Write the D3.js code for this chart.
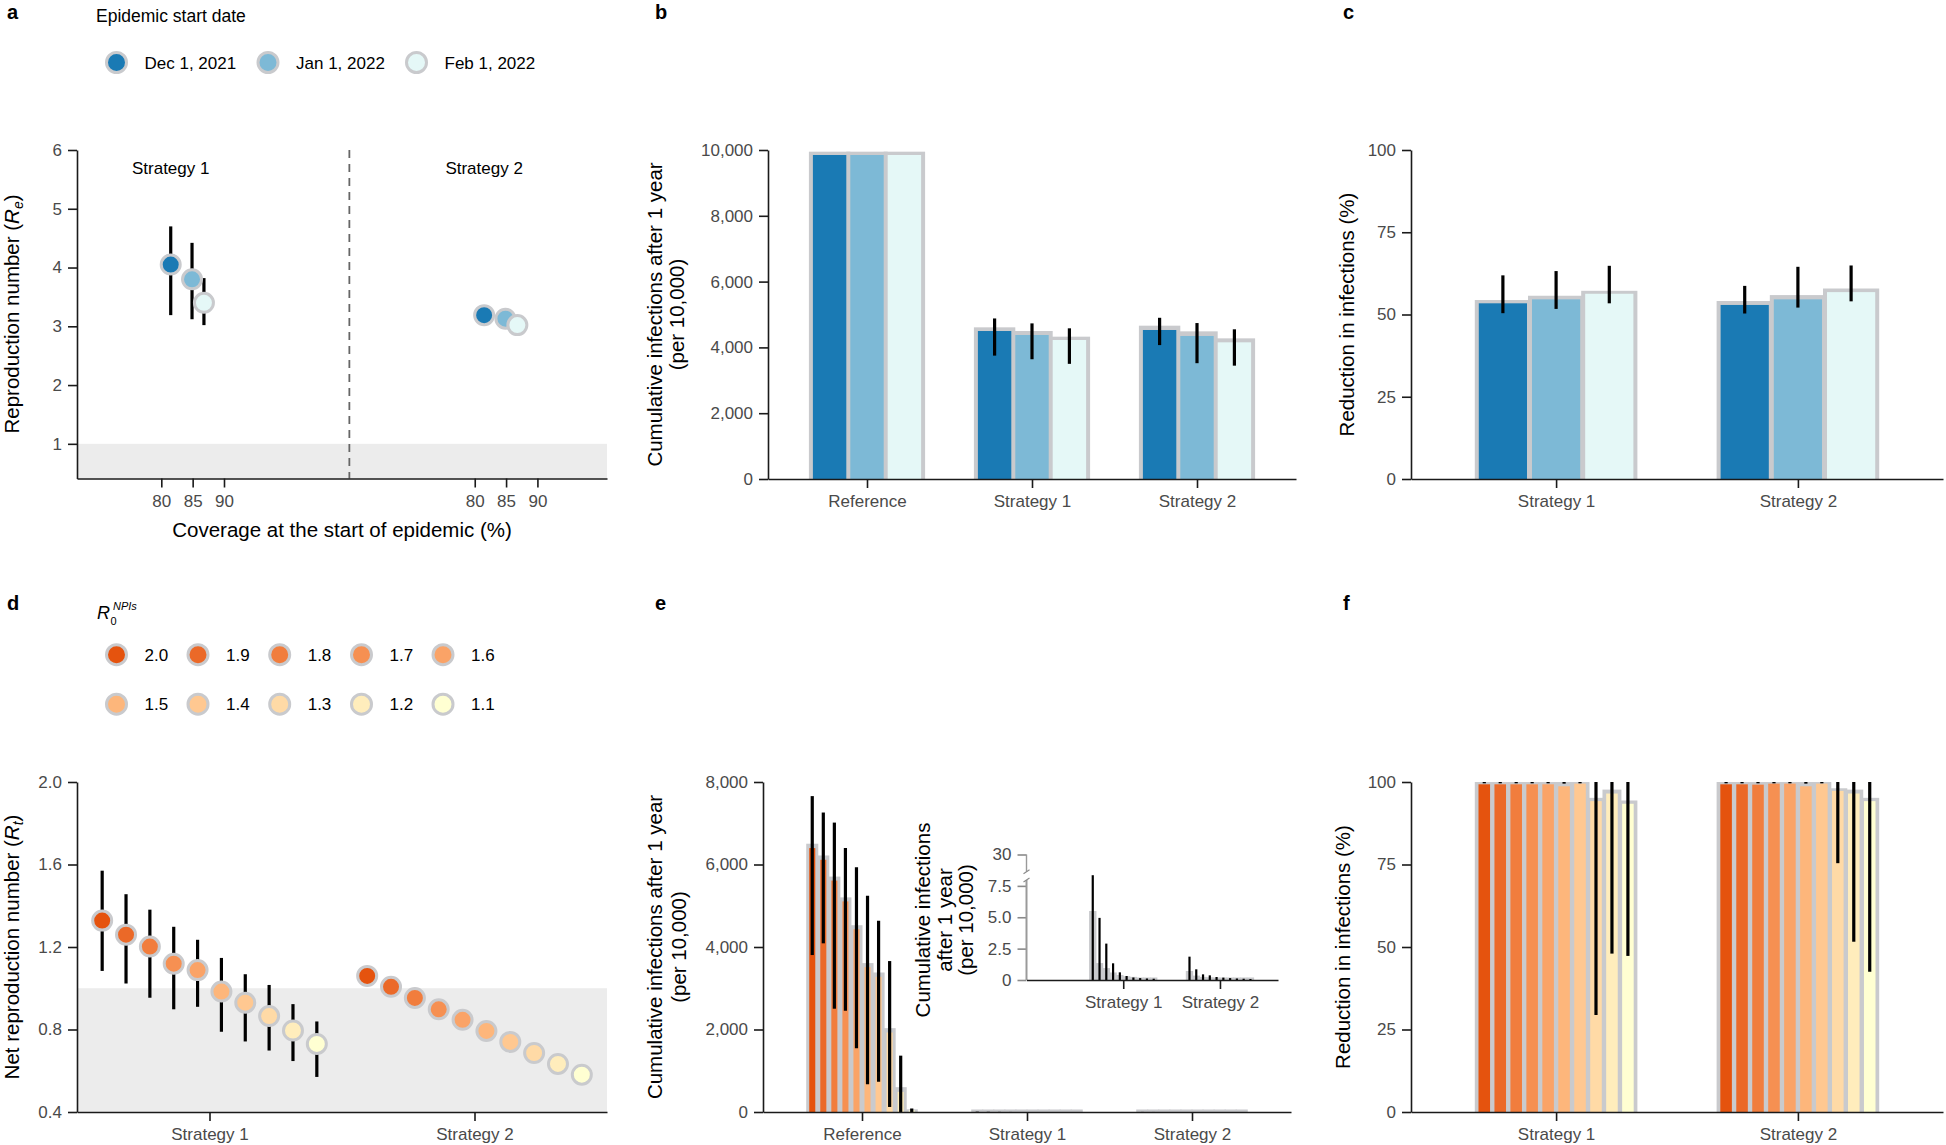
<!DOCTYPE html>
<html>
<head>
<meta charset="utf-8">
<script src="https://cdn.jsdelivr.net/npm/d3@7"></script>
<style>
  body { margin: 0; background: #fff; }
  svg text { font-family: "Liberation Sans", Arial, Helvetica, sans-serif; }
</style>
</head>
<body>
<svg id="chart" width="1946" height="1145"></svg>
<script>
// ---------- data ----------
var startDates = ["Dec 1, 2021", "Jan 1, 2022", "Feb 1, 2022"];
var scenarios = ["Reference", "Strategy 1", "Strategy 2"];
var strategies = ["Strategy 1", "Strategy 2"];
var r0Labels = ["2.0", "1.9", "1.8", "1.7", "1.6", "1.5", "1.4", "1.3", "1.2", "1.1"];

// a: effective reproduction number vs coverage
var coverage = [81.5, 84.9, 86.8];
var coverageTicks = [80, 85, 90];
var reS1 = [4.05, 3.80, 3.40];
var reS1Low = [3.19, 3.12, 3.02];
var reS1High = [4.70, 4.42, 3.82];
var reS2 = [3.19, 3.13, 3.02];
var reS2Low = [3.17, 3.11, 3.00];
var reS2High = [3.21, 3.15, 3.04];
var reTicks = [1, 2, 3, 4, 5, 6];

// b: cumulative infections (per 10,000), [Reference, Strategy 1, Strategy 2] x start date
var bMedian = [[9848, 9848, 9848], [4498, 4377, 4225], [4529, 4347, 4154]];
var bMean = [[9949, 9949, 9949], [4610, 4498, 4326], [4660, 4488, 4275]];
var bLow = [[9848, 9848, 9848], [3750, 3640, 3500], [4070, 3520, 3445]];
var bHigh = [[9848, 9848, 9848], [4880, 4730, 4580], [4900, 4740, 4550]];
var bTicks = [0, 2000, 4000, 6000, 8000, 10000];

// c: reduction in infections (%)
var cMedian = [[53.4, 54.6, 56.3], [52.9, 54.6, 56.8]];
var cMean = [[54.4, 55.7, 57.2], [54.1, 55.9, 57.9]];
var cLow = [[50.4, 51.7, 53.4], [50.3, 52.1, 54.0]];
var cHigh = [[61.9, 63.2, 64.8], [58.7, 64.5, 64.9]];
var pctTicks = [0, 25, 50, 75, 100];

// d: net reproduction number by R0 with NPIs
var rtS1 = [1.328, 1.260, 1.202, 1.119, 1.088, 0.984, 0.930, 0.865, 0.795, 0.730];
var rtS1Low = [1.084, 1.023, 0.954, 0.898, 0.910, 0.789, 0.742, 0.698, 0.647, 0.570];
var rtS1High = [1.570, 1.456, 1.381, 1.298, 1.235, 1.147, 1.068, 1.016, 0.923, 0.839];
var rtS2 = [1.060, 1.007, 0.953, 0.898, 0.847, 0.793, 0.740, 0.686, 0.633, 0.581];
var rtS2Low = [1.055, 1.002, 0.948, 0.893, 0.842, 0.788, 0.735, 0.681, 0.628, 0.576];
var rtS2High = [1.065, 1.012, 0.958, 0.903, 0.852, 0.798, 0.745, 0.691, 0.638, 0.586];
var rtTicks = [0.4, 0.8, 1.2, 1.6, 2.0];

// e: cumulative infections (per 10,000) by R0 with NPIs
var eMedian = [
  [6398, 6114, 5610, 5106, 4431, 3512, 3276, 1927, 488, 41],
  [0, 0, 0, 0, 0, 0, 0, 0, 0, 0],
  [0, 0, 0, 0, 0, 0, 0, 0, 0, 0]];
var eMean = [
  [6504, 6219, 5707, 5203, 4528, 3610, 3382, 2033, 602, 65],
  [5.5, 1.35, 0.95, 0.6, 0.4, 0.3, 0.25, 0.2, 0.2, 0.2],
  [0.72, 0.35, 0.25, 0.22, 0.2, 0.2, 0.2, 0.2, 0.2, 0.2]];
var eLow = [
  [3805, 4089, 2504, 2455, 1545, 675, 732, 122, 0, 0],
  [0, 0, 0, 0, 0, 0, 0, 0, 0, 0],
  [0, 0, 0, 0, 0, 0, 0, 0, 0, 0]];
var eHigh = [
  [7658, 7260, 7016, 6398, 5935, 5244, 4634, 3659, 1366, 85],
  [8.35, 4.95, 2.9, 1.33, 0.61, 0.32, 0.2, 0.15, 0.12, 0.1],
  [1.86, 0.85, 0.45, 0.37, 0.24, 0.19, 0.15, 0.12, 0.1, 0.08]];
var eTicks = [0, 2000, 4000, 6000, 8000];
var insetTicks = [0, 2.5, 5, 7.5, 30];
var insetTickLabels = ["0", "2.5", "5.0", "7.5", "30"];

// f: reduction in infections (%) by R0 with NPIs
var fMedian = [
  [99.3, 99.3, 99.3, 99.3, 99.3, 98.7, 99.5, 94.2, 96.5, 93.4],
  [99.3, 99.3, 99.2, 99.5, 99.5, 98.7, 99.5, 97.3, 96.5, 94.2]];
var fMean = [
  [100, 100, 100, 100, 100, 100, 100, 95.2, 97.7, 94.4],
  [100, 100, 100, 100, 100, 100, 100, 98.1, 97.7, 95.2]];
var fLow = [
  [99.6, 99.6, 99.6, 99.6, 99.6, 99.5, 99.6, 29.4, 48.0, 47.3],
  [99.6, 99.6, 99.6, 99.6, 99.6, 99.5, 99.6, 75.4, 51.6, 42.5]];
var fHigh = [
  [100, 100, 100, 100, 100, 100, 100, 100, 100, 100],
  [100, 100, 100, 100, 100, 100, 100, 100, 100, 100]];

// ---------- styling ----------
var FONT = "'Liberation Sans', Arial, Helvetica, sans-serif";
var outline = "#c9cacd";
var shade = "#ececec";
var blues = ["#1a7ab4", "#7db9d6", "#e5f8f7"];
var orangeRamp = d3.interpolateLab("#e5530e", "#ffffd2");
var oranges = r0Labels.map(function(d, i) { return orangeRamp(i / (r0Labels.length - 1)); });
var tickSize = 9;

var svg = d3.select("#chart");

function styleAxis(g, size) {
  g.attr("font-family", FONT).attr("font-size", size || 17);
  g.select(".domain").attr("stroke", "#1a1a1a").attr("stroke-width", 1.6);
  g.selectAll(".tick line").attr("stroke", "#1a1a1a").attr("stroke-width", 1.6);
  g.selectAll(".tick text").attr("fill", "#4a4a4a");
  return g;
}

function leftAxis(scale, x, ticks, fmt) {
  var ax = d3.axisLeft(scale).tickValues(ticks).tickSize(tickSize).tickSizeOuter(0).tickPadding(6);
  if (fmt) ax.tickFormat(fmt);
  return styleAxis(svg.append("g").attr("transform", "translate(" + x + ",0)").call(ax));
}

function bottomAxis(scale, y, ticks, fmt) {
  var ax = d3.axisBottom(scale).tickSize(tickSize).tickSizeOuter(0).tickPadding(7);
  if (ticks) ax.tickValues(ticks);
  if (fmt) ax.tickFormat(fmt);
  return styleAxis(svg.append("g").attr("transform", "translate(0," + y + ")").call(ax));
}

function yTitle(xs, yc, lines, size) {
  lines.forEach(function(line, i) {
    var t = svg.append("text")
      .attr("transform", "translate(" + xs[i] + "," + yc + ") rotate(-90)")
      .attr("text-anchor", "middle")
      .attr("font-size", size || 20.5)
      .attr("fill", "#000");
    if (typeof line === "string") t.text(line);
    else line(t);
  });
}

function panelLetter(x, y, s) {
  svg.append("text").attr("x", x).attr("y", y).attr("font-size", 20)
    .attr("font-weight", "bold").attr("fill", "#000").text(s);
}

// grouped bars: grey outline bar (mean) behind a coloured bar (median) + error line
function drawBars(centers, step, y, median, mean, low, high, colors, st) {
  var n = median[0].length;
  var groupW = step * st.groupFrac;
  var slotW = groupW / n;
  var bars = [];
  centers.forEach(function(cx, s) {
    for (var i = 0; i < n; i++) {
      bars.push({ x: cx - groupW / 2 + i * slotW, med: median[s][i], mean: mean[s][i],
                  lo: low[s][i], hi: high[s][i], color: colors[i] });
    }
  });
  var y0 = y(0);
  var g = svg.append("g");
  g.selectAll("rect.grey").data(bars).enter().append("rect")
    .attr("class", "grey")
    .attr("x", function(d) { return d.x - st.pad; })
    .attr("width", slotW + 2 * st.pad)
    .attr("y", function(d) { return Math.min(y(d.mean), y0 - (st.minGrey || 0)); })
    .attr("height", function(d) { return Math.max(y0 - y(d.mean), st.minGrey || 0); })
    .attr("fill", outline);
  g.selectAll("rect.col").data(bars).enter().append("rect")
    .attr("class", "col")
    .attr("x", function(d) { return d.x + st.inset; })
    .attr("width", slotW - 2 * st.inset)
    .attr("y", function(d) { return y(d.med); })
    .attr("height", function(d) { return y0 - y(d.med); })
    .attr("fill", function(d) { return d.color; });
  g.selectAll("line.err").data(bars).enter().append("line")
    .attr("class", "err")
    .attr("x1", function(d) { return d.x + slotW / 2; })
    .attr("x2", function(d) { return d.x + slotW / 2; })
    .attr("y1", function(d) { return y(d.lo); })
    .attr("y2", function(d) { return y(d.hi); })
    .attr("stroke", "#000")
    .attr("stroke-width", st.errWidth || 3.2);
}

function drawPoints(pts, r) {
  var g = svg.append("g");
  g.selectAll("line").data(pts).enter().append("line")
    .attr("x1", function(d) { return d.x; }).attr("x2", function(d) { return d.x; })
    .attr("y1", function(d) { return d.lo; }).attr("y2", function(d) { return d.hi; })
    .attr("stroke", "#000").attr("stroke-width", 3.2);
  g.selectAll("circle").data(pts).enter().append("circle")
    .attr("cx", function(d) { return d.x; }).attr("cy", function(d) { return d.y; })
    .attr("r", r).attr("fill", function(d) { return d.color; })
    .attr("stroke", outline).attr("stroke-width", 3);
}

// ---------- panel a ----------
var facetOffset = 50, facetBreak = 110;
var xA = d3.scaleLinear().domain([66.55, 151.1]).range([77, 607]);
var yA = d3.scaleLinear().domain([0.41, 6]).range([478.5, 150]);

panelLetter(7, 19, "a");
svg.append("text").attr("x", 96).attr("y", 22).attr("font-size", 17.5).text("Epidemic start date");
var legA = svg.append("g");
var legAx = [116.5, 268, 416.5];
startDates.forEach(function(d, i) {
  legA.append("circle").attr("cx", legAx[i]).attr("cy", 62.5).attr("r", 10)
    .attr("fill", blues[i]).attr("stroke", outline).attr("stroke-width", 3);
  legA.append("text").attr("x", legAx[i] + 28).attr("y", 68.5).attr("font-size", 17).text(d);
});

svg.append("rect").attr("x", xA.range()[0]).attr("y", yA(1))
  .attr("width", xA.range()[1] - xA.range()[0]).attr("height", yA(yA.domain()[0]) - yA(1))
  .attr("fill", shade);
svg.append("line").attr("x1", xA(facetBreak)).attr("x2", xA(facetBreak))
  .attr("y1", yA(6)).attr("y2", yA(yA.domain()[0]))
  .attr("stroke", "#666").attr("stroke-width", 1.8).attr("stroke-dasharray", "8,6");

strategies.forEach(function(s, k) {
  svg.append("text").attr("x", xA(coverage[0] + k * facetOffset)).attr("y", 174)
    .attr("text-anchor", "middle").attr("font-size", 17).text(s);
});

var ptsA = [];
coverage.forEach(function(c, i) {
  ptsA.push({ x: xA(c), y: yA(reS1[i]), lo: yA(reS1Low[i]), hi: yA(reS1High[i]), color: blues[i] });
});
coverage.forEach(function(c, i) {
  ptsA.push({ x: xA(c + facetOffset), y: yA(reS2[i]), lo: yA(reS2Low[i]), hi: yA(reS2High[i]), color: blues[i] });
});
drawPoints(ptsA, 9.5);

leftAxis(yA, 77, reTicks, d3.format("d"));
bottomAxis(xA, 478.5, coverageTicks.concat(coverageTicks.map(function(v) { return v + facetOffset; })),
  function(v) { return v > facetBreak ? v - facetOffset : v; });
svg.append("text").attr("x", 342).attr("y", 537).attr("text-anchor", "middle")
  .attr("font-size", 20.5).text("Coverage at the start of epidemic (%)");
yTitle([19], 314, [function(t) {
  t.append("tspan").text("Reproduction number (");
  t.append("tspan").attr("font-style", "italic").text("R");
  t.append("tspan").attr("font-style", "italic").attr("font-size", 14).attr("dy", 4).text("e");
  t.append("tspan").attr("dy", -4).text(")");
}]);

// ---------- panel b ----------
var xB = d3.scalePoint().domain(scenarios).range([768, 1296]).padding(0.6);
var yB = d3.scaleLinear().domain([0, 10000]).range([479, 150]);
panelLetter(655, 19, "b");
drawBars(scenarios.map(function(s) { return xB(s); }), xB.step(), yB, bMedian, bMean, bLow, bHigh, blues,
  { groupFrac: 0.68, pad: 2, inset: 2 });
leftAxis(yB, 768, bTicks, d3.format(","));
bottomAxis(xB, 479);
yTitle([661.5, 683.5], 314.5, ["Cumulative infections after 1 year", "(per 10,000)"]);

// ---------- panel c ----------
var xC = d3.scalePoint().domain(strategies).range([1411, 1943]).padding(0.6);
var yC = d3.scaleLinear().domain([0, 100]).range([479, 150]);
panelLetter(1343, 19, "c");
drawBars(strategies.map(function(s) { return xC(s); }), xC.step(), yC, cMedian, cMean, cLow, cHigh, blues,
  { groupFrac: 0.66, pad: 1.5, inset: 2.5 });
leftAxis(yC, 1411, pctTicks);
bottomAxis(xC, 479);
yTitle([1353.5], 314.5, ["Reduction in infections (%)"]);

// ---------- panel d ----------
var xD = d3.scalePoint().domain(strategies).range([77, 607]).padding(0.5);
var yD = d3.scaleLinear().domain([0.4, 2.0]).range([1112, 782]);
panelLetter(7, 610, "d");
svg.append("text").attr("x", 97).attr("y", 619).attr("font-size", 18).attr("font-style", "italic").text("R");
svg.append("text").attr("x", 110.5).attr("y", 624.5).attr("font-size", 11).text("0");
svg.append("text").attr("x", 113).attr("y", 610).attr("font-size", 11).attr("font-style", "italic").text("NPIs");
var legDx = [116.5, 198, 279.7, 361.5, 443];
var legDy = [654.7, 704.2];
r0Labels.forEach(function(d, i) {
  var cx = legDx[i % 5], cy = legDy[Math.floor(i / 5)];
  svg.append("circle").attr("cx", cx).attr("cy", cy).attr("r", 10)
    .attr("fill", oranges[i]).attr("stroke", outline).attr("stroke-width", 3);
  svg.append("text").attr("x", cx + 28).attr("y", cy + 6).attr("font-size", 17).text(d);
});

svg.append("rect").attr("x", 77).attr("y", yD(1)).attr("width", 530).attr("height", yD(0.4) - yD(1))
  .attr("fill", shade);
var dodge = 0.09 * xD.step();
var ptsD = [];
[[rtS1, rtS1Low, rtS1High], [rtS2, rtS2Low, rtS2High]].forEach(function(ser, k) {
  var cx = xD(strategies[k]);
  ser[0].forEach(function(v, i) {
    ptsD.push({ x: cx + (i - 4.5) * dodge, y: yD(v), lo: yD(ser[1][i]), hi: yD(ser[2][i]), color: oranges[i] });
  });
});
drawPoints(ptsD, 9.5);
leftAxis(yD, 77, rtTicks, d3.format(".1f"));
bottomAxis(xD, 1112);
yTitle([19], 947, [function(t) {
  t.append("tspan").text("Net reproduction number (");
  t.append("tspan").attr("font-style", "italic").text("R");
  t.append("tspan").attr("font-style", "italic").attr("font-size", 14).attr("dy", 4).text("t");
  t.append("tspan").attr("dy", -4).text(")");
}]);

// ---------- panel e ----------
var xE = d3.scalePoint().domain(scenarios).range([763, 1291]).padding(0.6);
var yE = d3.scaleLinear().domain([0, 8000]).range([1112, 782]);
panelLetter(655, 610, "e");
drawBars(scenarios.map(function(s) { return xE(s); }), xE.step(), yE, eMedian, eMean, eLow, eHigh, oranges,
  { groupFrac: 0.67, pad: 0.5, inset: 2.5, minGrey: 2.5 });
leftAxis(yE, 763, eTicks, d3.format(","));
bottomAxis(xE, 1112);
yTitle([662, 685.5], 947, ["Cumulative infections after 1 year", "(per 10,000)"]);

// inset with broken y axis
var xIn = d3.scaleLinear().domain([0, 2.6]).range([1026.5, 1278]);
var yIn = d3.scaleLinear().domain([0, 8.63, 30]).range([980, 871.7, 854.5]);
var inStep = xIn(2) - xIn(1);
drawBars([xIn(1), xIn(2)], inStep, yIn, eMedian.slice(1), eMean.slice(1), eLow.slice(1), eHigh.slice(1), oranges,
  { groupFrac: 0.7, pad: 0.3, inset: 1.5, errWidth: 2.2 });
var inY = styleAxis(svg.append("g").attr("transform", "translate(1026.5,0)")
  .call(d3.axisLeft(yIn).tickValues(insetTicks).tickSize(tickSize).tickPadding(6)
    .tickFormat(function(d, i) { return insetTickLabels[i]; })));
inY.select(".domain").remove();
inY.selectAll(".tick line").attr("stroke", "#8a8a8a");
inY.append("line").attr("x1", 0).attr("x2", 0).attr("y1", yIn(0)).attr("y2", yIn(7.97))
  .attr("stroke", "#9a9a9a").attr("stroke-width", 2);
inY.append("line").attr("x1", 0).attr("x2", 0).attr("y1", yIn(8.63)).attr("y2", yIn(30))
  .attr("stroke", "#9a9a9a").attr("stroke-width", 1.4);
[7.97, 8.63].forEach(function(v) {
  inY.append("line").attr("x1", -3).attr("x2", 3).attr("y1", yIn(v) + 2).attr("y2", yIn(v) - 2)
    .attr("stroke", "#8a8a8a").attr("stroke-width", 1.2);
});
bottomAxis(xIn, 980, [1, 2], function(d) { return scenarios[d]; });
yTitle([930, 952, 973], 920, ["Cumulative infections", "after 1 year", "(per 10,000)"]);

// ---------- panel f ----------
var xF = d3.scalePoint().domain(strategies).range([1411, 1943]).padding(0.6);
var yF = d3.scaleLinear().domain([0, 100]).range([1112, 782]);
panelLetter(1343, 610, "f");
drawBars(strategies.map(function(s) { return xF(s); }), xF.step(), yF, fMedian, fMean, fLow, fHigh, oranges,
  { groupFrac: 0.66, pad: 1.5, inset: 2.2 });
leftAxis(yF, 1411, pctTicks);
bottomAxis(xF, 1112);
yTitle([1349.5], 947, ["Reduction in infections (%)"]);
</script>
</body>
</html>
